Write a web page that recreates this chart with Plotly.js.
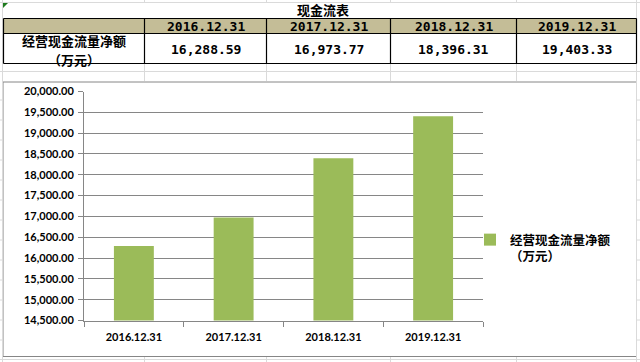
<!DOCTYPE html>
<html><head><meta charset="utf-8">
<script src="https://cdn.plot.ly/plotly-3.0.1.min.js"></script>
<style>html,body{margin:0;padding:0;background:#fff}#chart{width:640px;height:362px}</style>
</head><body><div id="chart"></div>
<script>
const tableTitle = "现金流表";
const categories = ["2016.12.31", "2017.12.31", "2018.12.31", "2019.12.31"];
const values = [16288.59, 16973.77, 18396.31, 19403.33];
const seriesName = "经营现金流量净额<br>（万元）";
const rowLabelLines = ["经营现金流量净额", "（万元）"];

const W = 640, H = 362;
const px = x => x / W;
const py = y => 1 - y / H;
const fmt = v => v.toLocaleString('en-US', {minimumFractionDigits: 2, maximumFractionDigits: 2});

const mono = "DejaVu Sans Mono";
const cjk = "Noto Sans CJK SC";
const grey = "#868686";
const gridLight = "#dadada";

// table geometry (pixels)
const colX = [3.5, 144.5, 266.5, 390.5, 516.5, 636.5];
const rowY = [18.5, 33.5, 63.5];

const shapes = [];
const annotations = [];
const L = (x0, y0, x1, y1, color, width) => shapes.push({type:'line', xref:'paper', yref:'paper', x0:px(x0), x1:px(x1), y0:py(y0), y1:py(y1), line:{color, width}});

// Excel sheet gridlines (light)
[144.5, 266.5, 390.5, 516.5].forEach(x => { L(x, 0, x, 3, gridLight, 1); L(x, 64, x, 81, gridLight, 1); L(x, 357, x, 362, gridLight, 1); });
L(636.5, 0, 636.5, 362, gridLight, 1);
L(2.5, 0, 2.5, 362, gridLight, 1);
L(0, 2.5, 640, 2.5, gridLight, 1);
L(0, 71.5, 640, 71.5, gridLight, 1);
L(0, 359.5, 640, 359.5, gridLight, 1);
[100, 120, 140, 160, 180, 200, 220, 240, 260, 280, 300, 320, 340].forEach(y => { L(636.5, y, 640, y, gridLight, 1); L(0, y, 2.5, y, gridLight, 1); });

// chart area border
shapes.push({type:'rect', xref:'paper', yref:'paper', x0:px(3), x1:px(636.5), y0:py(356.5), y1:py(82), line:{color:grey, width:1}, fillcolor:'#fff', layer:'below'});

// table: header fill + borders
shapes.push({type:'rect', xref:'paper', yref:'paper', x0:px(colX[0]), x1:px(colX[5]), y0:py(rowY[1]), y1:py(rowY[0]), line:{width:0}, fillcolor:'#C4BD97'});
rowY.forEach(y => L(colX[0], y, colX[5], y, '#000', 1.2));
colX.forEach(x => L(x, rowY[0], x, rowY[2], '#000', 1.2));

// green comment marker
shapes.push({type:'path', xref:'paper', yref:'paper', path:`M ${px(3)} ${py(3)} L ${px(8)} ${py(3)} L ${px(3)} ${py(8)} Z`, fillcolor:'#1E7B1E', line:{width:0}});

// table texts
annotations.push({text:"<b>" + tableTitle + "</b>", x:px(323), y:py(9.2), font:{family:cjk, size:13, color:'#000'}});
categories.forEach((c, i) => {
  const cx = (colX[i+1] + colX[i+2]) / 2;
  annotations.push({text:"<b>" + c + "</b>", x:px(cx), y:py(26.6), font:{family:mono, size:13, color:'#000'}});
  annotations.push({text:"<b>" + fmt(values[i]) + "</b>", x:px(cx), y:py(49.5), font:{family:mono, size:13, color:'#000'}});
});
rowLabelLines.forEach((t, j) => {
  annotations.push({text:"<b>" + t + "</b>", x:px((colX[0] + colX[1]) / 2), y:py(40.8 + j * 19), font:{family:cjk, size:13, color:'#000'}});
});
annotations.forEach(a => Object.assign(a, {xref:'paper', yref:'paper', xanchor:'center', yanchor:'middle', showarrow:false, borderpad:0}));

const bars = {
  type: 'bar',
  x: categories,
  y: values,
  name: seriesName,
  marker: {color: "#9BBB59"},
  showlegend: true
};

const tickFont = {family: 'Lato', size: 11, color: '#000', weight: 'bold'};

const layout = {
  width: W, height: H,
  margin: {l:0, r:0, t:0, b:0},
  paper_bgcolor: '#fff',
  plot_bgcolor: 'rgba(0,0,0,0)',
  showlegend: true,
  bargap: 0.6,
  xaxis: {
    domain: [px(84), px(483)],
    type: 'category',
    showline: true, linecolor: grey, linewidth: 1,
    ticks: 'outside', ticklen: 5, tickcolor: grey, tickson: 'boundaries',
    ticklabelstandoff: 6,
    showgrid: false,
    tickfont: tickFont,
    fixedrange: true
  },
  yaxis: {
    domain: [py(320.5), py(91.5)],
    range: [14500, 20000],
    dtick: 500,
    tickformat: ',.2f',
    showline: true, linecolor: grey, linewidth: 1,
    ticks: 'outside', ticklen: 5, tickcolor: grey,
    ticklabelstandoff: 2,
    showgrid: true, gridcolor: grey, gridwidth: 1,
    zeroline: false,
    tickfont: tickFont,
    fixedrange: true
  },
  legend: {
    x: px(470), y: py(225), xanchor: 'left', yanchor: 'top',
    font: {family: cjk, size: 12.5, color: '#000', weight: 'bold'},
    bgcolor: 'rgba(0,0,0,0)', valign: 'top', itemwidth: 30
  },
  annotations: annotations,
  shapes: shapes
};

Plotly.newPlot('chart', [bars], layout, {displayModeBar: false, staticPlot: true});
</script></body></html>
